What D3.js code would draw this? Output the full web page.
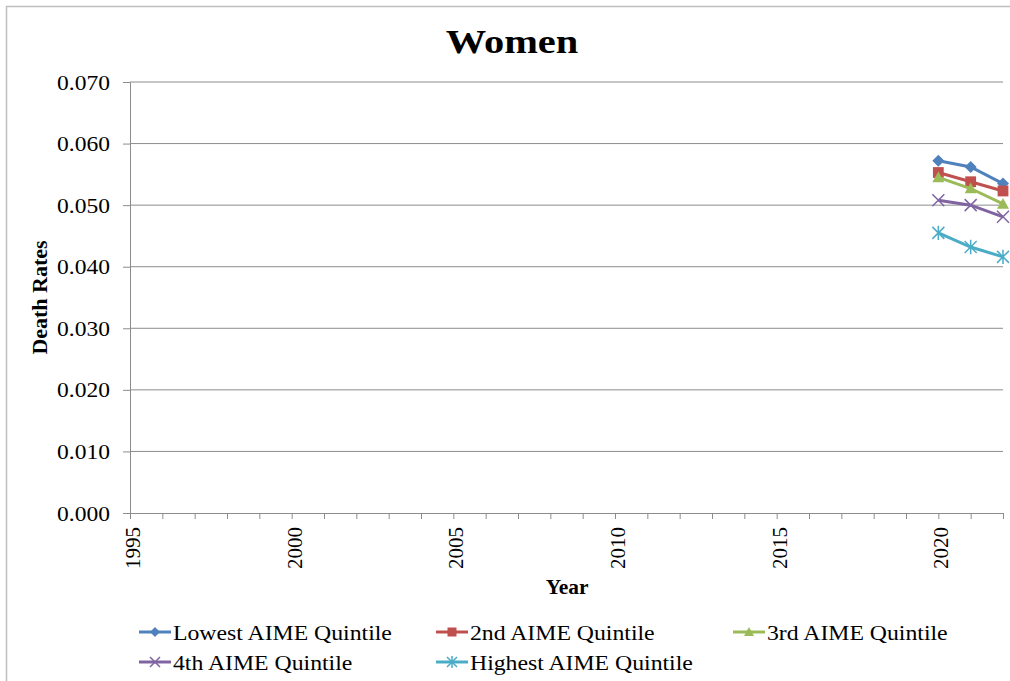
<!DOCTYPE html>
<html>
<head>
<meta charset="utf-8">
<script src="https://cdn.jsdelivr.net/npm/d3@7"></script>
<style>
  body { margin: 0; background: #fff; }
  svg { display: block; font-family: "Liberation Serif", "Times New Roman", serif; }
</style>
</head>
<body>
<svg width="1010" height="681"></svg>
<script>
// data
const years = [2020, 2021, 2022];
const seriesNames = ["Lowest AIME Quintile", "2nd AIME Quintile", "3rd AIME Quintile",
                     "4th AIME Quintile", "Highest AIME Quintile"];
const lowest  = [0.0572, 0.0562, 0.0535];
const second  = [0.0553, 0.0538, 0.0523];
const third   = [0.0545, 0.0527, 0.0502];
const fourth  = [0.0508, 0.0500, 0.0481];
const highest = [0.0455, 0.0432, 0.0416];
const yTicks = [0, 0.01, 0.02, 0.03, 0.04, 0.05, 0.06, 0.07];
const xLabels = [1995, 2000, 2005, 2010, 2015, 2020];

const colors = ["#4F81BD", "#C0504D", "#9BBB59", "#8064A2", "#4BACC6"];
const shapes = ["diamond", "square", "triangle", "x", "star"];
const allSeries = [lowest, second, third, fourth, highest];

const svg = d3.select("svg"),
    margin = {top: 82, right: 7, bottom: 168, left: 130},
    width = +svg.attr("width") - margin.left - margin.right,
    height = +svg.attr("height") - margin.top - margin.bottom;

// outer chart frame
svg.append("rect")
    .attr("x", 6.5).attr("y", 6.5)
    .attr("width", 1010).attr("height", 700)
    .attr("fill", "none").attr("stroke", "#bfbfbf").attr("stroke-width", 1.5);

const g = svg.append("g").attr("transform", "translate(" + margin.left + "," + margin.top + ")");

const x = d3.scaleLinear().domain([1995, 2022]).range([0, width]);
const y = d3.scaleLinear().domain([0, 0.07]).range([height, 0]);

// gridlines
g.append("g")
    .selectAll("line")
    .data(yTicks.slice(1))
    .join("line")
    .attr("x1", 0).attr("x2", width)
    .attr("y1", d => y(d)).attr("y2", d => y(d))
    .attr("stroke", "#8c8c8c").attr("stroke-width", 1);

// y axis
const yAxis = g.append("g")
    .call(d3.axisLeft(y).tickValues(yTicks).tickFormat(d3.format(".3f")).tickSize(7));
yAxis.select(".domain").attr("stroke", "#8c8c8c");
yAxis.selectAll(".tick line").attr("stroke", "#8c8c8c");
yAxis.selectAll("text").attr("font-size", 22).attr("fill", "#000")
    .attr("font-family", "Liberation Serif, serif")
    .attr("x", 0)
    .attr("transform", "translate(-20,0) scale(1.07,1)");

// x axis: tick each year, label each 5
const xAxis = g.append("g")
    .attr("transform", "translate(0," + height + ")")
    .call(d3.axisBottom(x).tickValues(d3.range(1995, 2023)).tickSize(6)
      .tickFormat(d => xLabels.includes(d) ? d : ""));
xAxis.select(".domain").attr("stroke", "#8c8c8c");
xAxis.selectAll(".tick line").attr("stroke", "#8c8c8c");
xAxis.selectAll("text")
    .attr("font-size", 21).attr("fill", "#000")
    .attr("font-family", "Liberation Serif, serif")
    .attr("transform", "translate(2,0) rotate(-90)")
    .attr("text-anchor", "end")
    .attr("x", -14).attr("y", 0).attr("dy", "0.35em");

// marker drawing
function marker(sel, shape, color, s) {
  if (shape === "diamond") {
    sel.append("path").attr("d", `M0,${-s}L${s},0L0,${s}L${-s},0Z`).attr("fill", color);
  } else if (shape === "square") {
    sel.append("rect").attr("x", -s * 0.9).attr("y", -s * 0.9)
      .attr("width", s * 1.8).attr("height", s * 1.8).attr("fill", color);
  } else if (shape === "triangle") {
    sel.append("path").attr("d", `M0,${-s}L${s},${s * 0.8}L${-s},${s * 0.8}Z`).attr("fill", color);
  } else if (shape === "x") {
    sel.append("path").attr("d", `M${-s},${-s}L${s},${s}M${-s},${s}L${s},${-s}`)
      .attr("stroke", color).attr("stroke-width", 1.5).attr("fill", "none");
  } else {
    sel.append("path").attr("d", `M${-s},${-s}L${s},${s}M${-s},${s}L${s},${-s}M0,${-s * 1.2}L0,${s * 1.2}`)
      .attr("stroke", color).attr("stroke-width", 1.5).attr("fill", "none");
  }
}

const line_gen = d3.line()
    .x((d, i) => x(years[i]))
    .y(d => y(d));

allSeries.forEach((vals, k) => {
  g.append("path")
      .datum(vals)
      .attr("fill", "none")
      .attr("stroke", colors[k])
      .attr("stroke-width", 3)
      .attr("d", line_gen);
  vals.forEach((v, i) => {
    const m = g.append("g").attr("transform", "translate(" + x(years[i]) + "," + y(v) + ")");
    marker(m, shapes[k], colors[k], 6);
  });
});

// title and axis titles
svg.append("text")
    .attr("transform", "translate(512,53) scale(1.19,1)")
    .attr("text-anchor", "middle")
    .attr("font-size", 34).attr("font-weight", "bold")
    .text("Women");

svg.append("text")
    .attr("transform", "translate(47," + (margin.top + height / 2) + ") rotate(-90) scale(1.1,1)")
    .attr("text-anchor", "middle")
    .attr("font-size", 20).attr("font-weight", "bold")
    .text("Death Rates");

svg.append("text")
    .attr("transform", "translate(567,594) scale(1.07,1)")
    .attr("text-anchor", "middle")
    .attr("font-size", 20).attr("font-weight", "bold")
    .text("Year");

// legend
const legendPos = [[139, 632], [436, 632], [733, 632], [139, 662], [436, 662]];
seriesNames.forEach((name, k) => {
  const lg = svg.append("g").attr("transform", "translate(" + legendPos[k][0] + "," + legendPos[k][1] + ")");
  lg.append("line").attr("x1", 0).attr("x2", 32).attr("y1", 0).attr("y2", 0)
    .attr("stroke", colors[k]).attr("stroke-width", 3);
  marker(lg.append("g").attr("transform", "translate(16,0)"), shapes[k], colors[k], 5);
  lg.append("text").attr("transform", "translate(34,0) scale(1.08,1)").attr("dy", "0.35em")
    .attr("font-size", 22).text(name);
});
</script>
</body>
</html>
